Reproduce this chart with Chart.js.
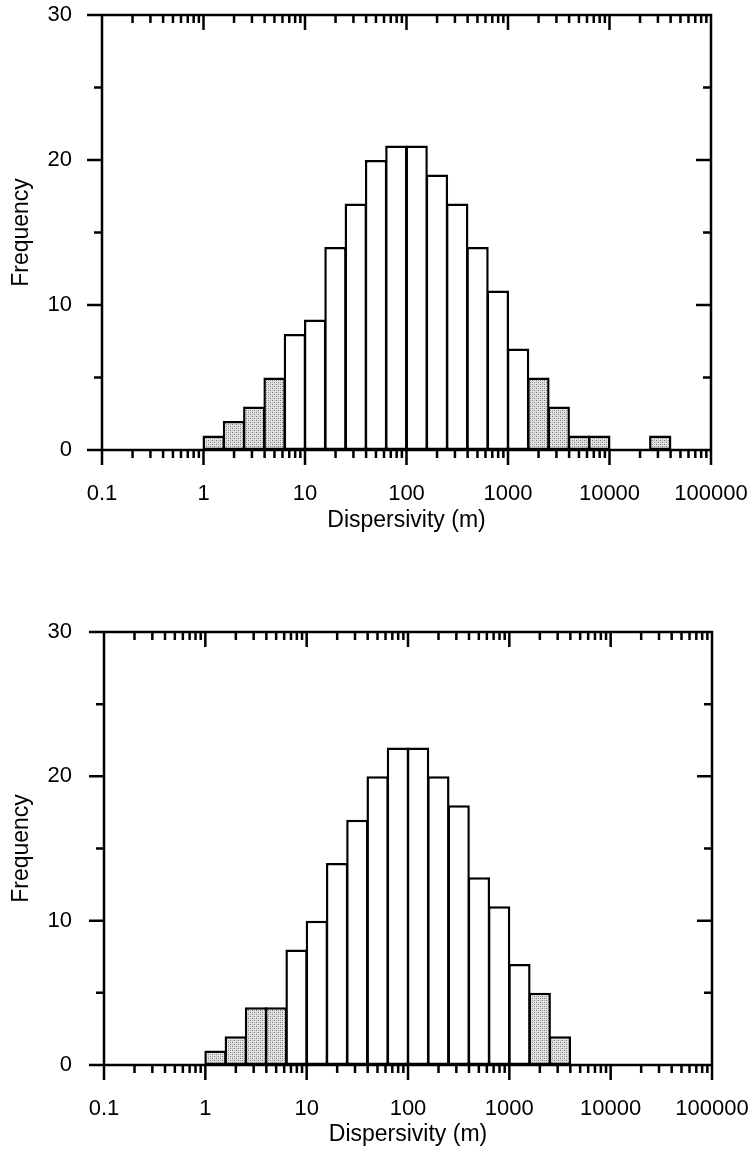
<!DOCTYPE html>
<html><head><meta charset="utf-8">
<script src="https://cdn.jsdelivr.net/npm/chart.js@4.4.1/dist/chart.umd.min.js"></script>
<style>
html,body{margin:0;padding:0;background:#fff;width:751px;height:1149px;overflow:hidden}
.box{position:absolute;left:0;width:751px}
#b1{top:0;height:574px}
#b2{top:574px;height:575px}
</style></head><body>
<div class="box" id="b1"><canvas id="c1"></canvas></div>
<div class="box" id="b2"><canvas id="c2"></canvas></div>
<script>
// Bin edges (1/5 decade bins), counts per bin, and tail-bin flags (stippled)
const binEdges = [1, 1.585, 2.512, 3.981, 6.310, 10, 15.85, 25.12, 39.81, 63.10, 100, 158.5, 251.2, 398.1, 631.0, 1000, 1585, 2512, 3981, 6310, 10000, 15850, 25120, 39810];
const countsTop    = [1, 2, 3, 5, 8, 9, 14, 17, 20, 21, 21, 19, 17, 14, 11, 7, 5, 3, 1, 1, 0, 0, 1];
const countsBottom = [1, 2, 4, 4, 8, 10, 14, 17, 20, 22, 22, 20, 18, 13, 11, 7, 5, 2, 0, 0, 0, 0, 0];
const tailBins     = [1, 1, 1, 1, 0, 0, 0, 0, 0, 0, 0, 0, 0, 0, 0, 0, 1, 1, 1, 1, 1, 1, 1];
const xTickValues = [0.1, 1, 10, 100, 1000, 10000, 100000];
const xTickLabels = ['0.1', '1', '10', '100', '1000', '10000', '100000'];
const xMinorFactors = [2, 3, 4, 5, 6, 7, 8, 9];
const yTickValues = [0, 10, 20, 30];
const yMinorValues = [5, 15, 25];
const xTitle = 'Dispersivity (m)';
const yTitle = 'Frequency';

const TICKFONT = {family: '"Liberation Sans", Arial, sans-serif', size: 22};
const TITLEFONT = {family: '"Liberation Sans", Arial, sans-serif', size: 23};
const LW = 2.5;

function makeStipple() {
  const c = document.createElement('canvas');
  c.width = 4; c.height = 4;
  const g = c.getContext('2d');
  g.fillStyle = '#e2e2e2'; g.fillRect(0, 0, 4, 4);
  g.fillStyle = '#767676';
  g.fillRect(0, 0, 1, 1); g.fillRect(2, 2, 1, 1);
  g.fillStyle = '#acacac';
  g.fillRect(2, 0, 1, 1); g.fillRect(0, 2, 1, 1);
  return g.createPattern(c, 'repeat');
}
const stipple = makeStipple();

function buildData(counts) {
  const pts = [], bg = [];
  counts.forEach((n, i) => {
    if (n > 0) {
      pts.push({x: Math.sqrt(binEdges[i] * binEdges[i + 1]), y: n});
      bg.push(tailBins[i] ? stipple : '#ffffff');
    }
  });
  return {pts, bg};
}

const frameTicks = {
  id: 'frameTicks',
  afterDatasetsDraw(chart) {
    const {ctx, chartArea: a, scales: {x, y}} = chart;
    const MAJ = 15, MIN = 8;
    ctx.save();
    ctx.strokeStyle = '#000';
    ctx.lineWidth = LW;
    ctx.lineCap = 'butt';
    ctx.beginPath();
    const seg = (x1, y1, x2, y2) => { ctx.moveTo(x1, y1); ctx.lineTo(x2, y2); };
    const h = LW / 2;
    // frame
    seg(a.left, a.top - h, a.left, a.bottom + h);
    seg(a.right, a.top - h, a.right, a.bottom + h);
    seg(a.left - h, a.top, a.right + h, a.top);
    seg(a.left - h, a.bottom, a.right + h, a.bottom);
    // x major ticks
    xTickValues.forEach((v, i) => {
      const px = x.getPixelForValue(v);
      seg(px, a.bottom, px, a.bottom + MAJ);
      if (i > 0 && i < xTickValues.length - 1) seg(px, a.top, px, a.top + MAJ);
    });
    // x minor ticks
    xTickValues.slice(0, -1).forEach(d => {
      xMinorFactors.forEach(f => {
        const px = x.getPixelForValue(d * f);
        seg(px, a.bottom, px, a.bottom + MIN);
        seg(px, a.top, px, a.top + MIN);
      });
    });
    // y major ticks
    yTickValues.forEach((v, i) => {
      const py = y.getPixelForValue(v);
      seg(a.left - MAJ, py, a.left, py);
      if (i > 0 && i < yTickValues.length - 1) seg(a.right - MAJ, py, a.right, py);
    });
    yMinorValues.forEach(v => {
      const py = y.getPixelForValue(v);
      seg(a.left - MIN, py, a.left, py);
      seg(a.right - MIN, py, a.right, py);
    });
    ctx.stroke();
    ctx.restore();
  }
};

function makeChart(id, counts, L) {
  const d = buildData(counts);
  return new Chart(document.getElementById(id), {
    type: 'bar',
    data: {
      datasets: [{
        data: d.pts,
        backgroundColor: d.bg,
        borderColor: '#000',
        borderWidth: LW,
        borderSkipped: false,
        barPercentage: 1.1,
        categoryPercentage: 1.0
      }]
    },
    options: {
      responsive: true,
      maintainAspectRatio: false,
      animation: false,
      layout: {padding: {left: 0, right: L.right, top: L.top, bottom: 0}},
      plugins: {legend: {display: false}, tooltip: {enabled: false}},
      scales: {
        x: {
          type: 'logarithmic',
          min: 0.1, max: 100000,
          afterBuildTicks: s => { s.ticks = xTickValues.map(v => ({value: v})); },
          afterFit: s => { s.height = L.xh; s.paddingLeft = 0; s.paddingRight = 0; },
          ticks: {
            autoSkip: false, maxRotation: 0, minRotation: 0,
            padding: L.xpad, color: '#000', font: TICKFONT,
            callback: v => { const k = xTickValues.indexOf(v); return k >= 0 ? xTickLabels[k] : ''; }
          },
          grid: {display: false, drawTicks: false},
          border: {display: false},
          title: {display: true, text: xTitle, color: '#000', font: TITLEFONT, padding: {top: 0, bottom: L.tpad}}
        },
        y: {
          type: 'linear',
          min: 0, max: 30,
          afterBuildTicks: s => { s.ticks = yTickValues.map(v => ({value: v})); },
          afterFit: s => { s.width = L.yw; s.paddingTop = 0; s.paddingBottom = 0; },
          ticks: {padding: L.ypad, color: '#000', font: TICKFONT},
          grid: {display: false, drawTicks: false},
          border: {display: false},
          title: {display: true, text: yTitle, color: '#000', font: TITLEFONT, padding: {top: 8, bottom: 0}}
        }
      }
    },
    plugins: [frameTicks]
  });
}

makeChart('c1', countsTop,    {top: 15, right: 40, yw: 102, xh: 124, xpad: 31, tpad: 40, ypad: 30});
makeChart('c2', countsBottom, {top: 58, right: 39, yw: 104, xh: 84,  xpad: 31, tpad: 1,  ypad: 32});
</script>
</body></html>
